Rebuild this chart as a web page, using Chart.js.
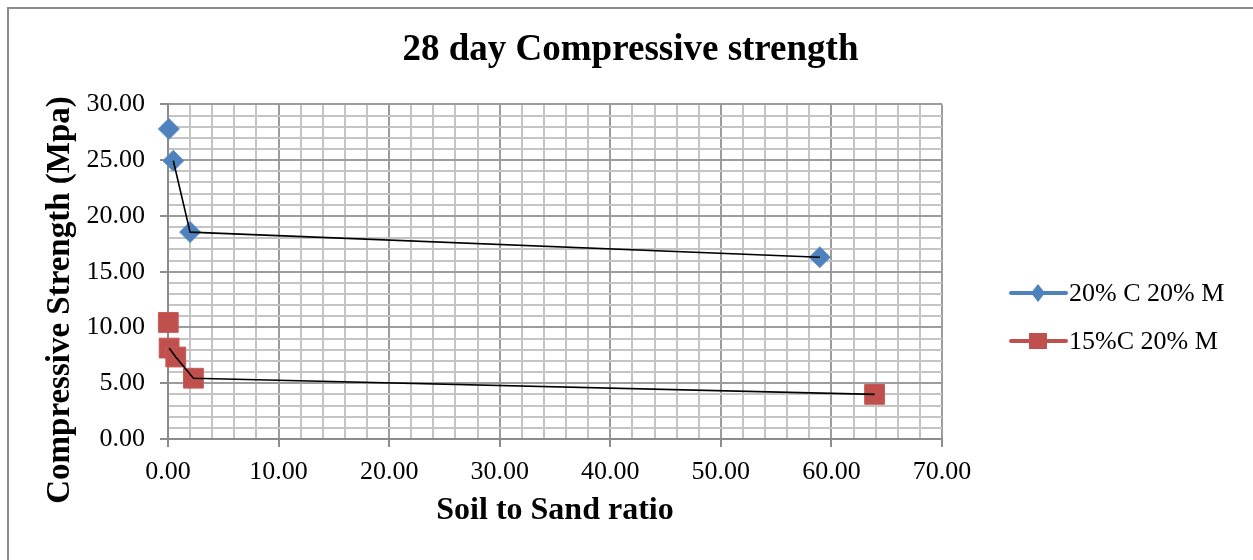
<!DOCTYPE html>
<html>
<head>
<meta charset="utf-8">
<script src="https://cdn.jsdelivr.net/npm/chart.js@4"></script>
<style>
  html, body { margin: 0; padding: 0; background: #fff; overflow: hidden; }
  #wrap { position: relative; width: 1253px; height: 560px; }
  #frame { position: absolute; left: 7px; top: 7px; width: 1400px; height: 700px;
           border-left: 2px solid #8c8c8c; border-top: 2px solid #8c8c8c; }
  canvas { position: absolute; left: 0; top: 0; }
</style>
</head>
<body>
<div id="wrap">
  <div id="frame"></div>
  <canvas id="chart" width="1253" height="560"></canvas>
</div>
<script>
// data
const SERIES_NAMES = ["20% C 20% M", "15%C 20% M"];
const blueX = [0.08, 0.48, 2.0, 58.95];
const blueY = [27.8, 24.95, 18.55, 16.3];
const redX = [0.03, 0.1, 0.7, 2.3, 63.9];
const redY = [10.45, 8.15, 7.35, 5.45, 4.0];

const BLUE = "#4f81bd";
const RED = "#c0504d";
const SERIF = "'Liberation Serif', 'Times New Roman', serif";

function pts(xs, ys) {
  return xs.map((x, i) => ({ x: x, y: ys[i] }));
}

// black connecting lines start at the second point of each series
const blueLine = pts(blueX, blueY).slice(1);
const redLine = pts(redX, redY).slice(1);

function gridColor(ctx, every) {
  const v = ctx.tick ? ctx.tick.value : 0;
  return Math.round(v) % every === 0 ? "#9c9c9c" : "#c4c4c4";
}

// legend on the right (line + marker) and the y-axis title, which in the
// original sits lower than the plot centre
const extras = {
  id: "extras",
  afterDraw(chart) {
    const ctx = chart.ctx;
    const items = [
      { label: SERIES_NAMES[0], color: BLUE, shape: "diamond", y: 293 },
      { label: SERIES_NAMES[1], color: RED, shape: "square", y: 341 }
    ];
    ctx.save();
    items.forEach(it => {
      ctx.strokeStyle = it.color;
      ctx.lineWidth = 4;
      ctx.lineCap = "round";
      ctx.beginPath();
      ctx.moveTo(1011, it.y);
      ctx.lineTo(1066, it.y);
      ctx.stroke();
      ctx.fillStyle = it.color;
      ctx.beginPath();
      if (it.shape === "diamond") {
        ctx.moveTo(1038, it.y - 9);
        ctx.lineTo(1045, it.y);
        ctx.lineTo(1038, it.y + 9);
        ctx.lineTo(1031, it.y);
        ctx.closePath();
      } else {
        ctx.rect(1029, it.y - 8, 18, 16);
      }
      ctx.fill();
      ctx.fillStyle = "#000";
      ctx.font = "26px " + SERIF;
      ctx.textBaseline = "middle";
      ctx.textAlign = "left";
      ctx.fillText(it.label, 1069, it.y + 1);
    });

    ctx.translate(60.5, 300);
    ctx.rotate(-Math.PI / 2);
    ctx.font = "bold 33px " + SERIF;
    ctx.textAlign = "center";
    ctx.textBaseline = "middle";
    ctx.fillStyle = "#000";
    ctx.fillText("Compressive Strength (Mpa)", 0, 0);
    ctx.restore();
  }
};

new Chart(document.getElementById("chart"), {
  type: "scatter",
  data: {
    datasets: [
      {
        label: "trend1",
        data: blueLine,
        showLine: true,
        borderColor: "#000",
        borderWidth: 1.6,
        pointRadius: 0,
        order: 0
      },
      {
        label: "trend2",
        data: redLine,
        showLine: true,
        borderColor: "#000",
        borderWidth: 1.6,
        pointRadius: 0,
        order: 0
      },
      {
        label: SERIES_NAMES[0],
        data: pts(blueX, blueY),
        pointStyle: "rectRot",
        pointRadius: 10.5,
        pointBackgroundColor: BLUE,
        pointBorderColor: "#5b8cc6",
        pointBorderWidth: 1,
        clip: false,
        order: 1
      },
      {
        label: SERIES_NAMES[1],
        data: pts(redX, redY),
        pointStyle: "rect",
        pointRadius: 14,
        pointBackgroundColor: RED,
        pointBorderColor: "#c85a57",
        pointBorderWidth: 1,
        clip: false,
        order: 1
      }
    ]
  },
  options: {
    responsive: false,
    animation: false,
    layout: {
      padding: { left: 8, right: 0, top: 0, bottom: 0 }
    },
    plugins: {
      legend: { display: false },
      tooltip: { enabled: false },
      title: {
        display: true,
        text: "28 day Compressive strength",
        color: "#000",
        font: { family: SERIF, size: 37, weight: "bold" },
        padding: { top: 28, bottom: 32 }
      }
    },
    scales: {
      x: {
        type: "linear",
        min: 0,
        max: 70,
        afterFit(axis) { axis.height = 121; },
        ticks: {
          stepSize: 2,
          autoSkip: false,
          maxRotation: 0,
          padding: 10,
          color: "#000",
          font: { family: SERIF, size: 26 },
          callback: v => (Math.round(v) % 10 === 0 ? v.toFixed(2) : "")
        },
        grid: {
          color: ctx => gridColor(ctx, 10),
          lineWidth: 2,
          tickLength: 8,
          tickColor: ctx => (Math.round(ctx.tick.value) % 10 === 0 ? "#8c8c8c" : "rgba(0,0,0,0)")
        },
        border: { color: "#8c8c8c", width: 2 },
        title: {
          display: true,
          text: "Soil to Sand ratio",
          color: "#000",
          font: { family: SERIF, size: 32, weight: "bold" },
          padding: { top: 4, bottom: 30 }
        }
      },
      y: {
        min: 0,
        max: 30,
        afterFit(axis) { axis.width = 160; },
        ticks: {
          stepSize: 1,
          autoSkip: false,
          padding: 15,
          color: "#000",
          font: { family: SERIF, size: 26 },
          callback: v => (Math.round(v) % 5 === 0 ? v.toFixed(2) : "")
        },
        grid: {
          color: ctx => gridColor(ctx, 5),
          lineWidth: 2,
          tickLength: 8,
          tickColor: ctx => (Math.round(ctx.tick.value) % 5 === 0 ? "#8c8c8c" : "rgba(0,0,0,0)")
        },
        border: { color: "#8c8c8c", width: 2 }
      },
      // empty axis on the right that only reserves room for the legend
      side: {
        position: "right",
        afterFit(axis) { axis.width = 311; },
        ticks: { display: false },
        grid: { display: false },
        border: { display: false }
      }
    }
  },
  plugins: [extras]
});
</script>
</body>
</html>
